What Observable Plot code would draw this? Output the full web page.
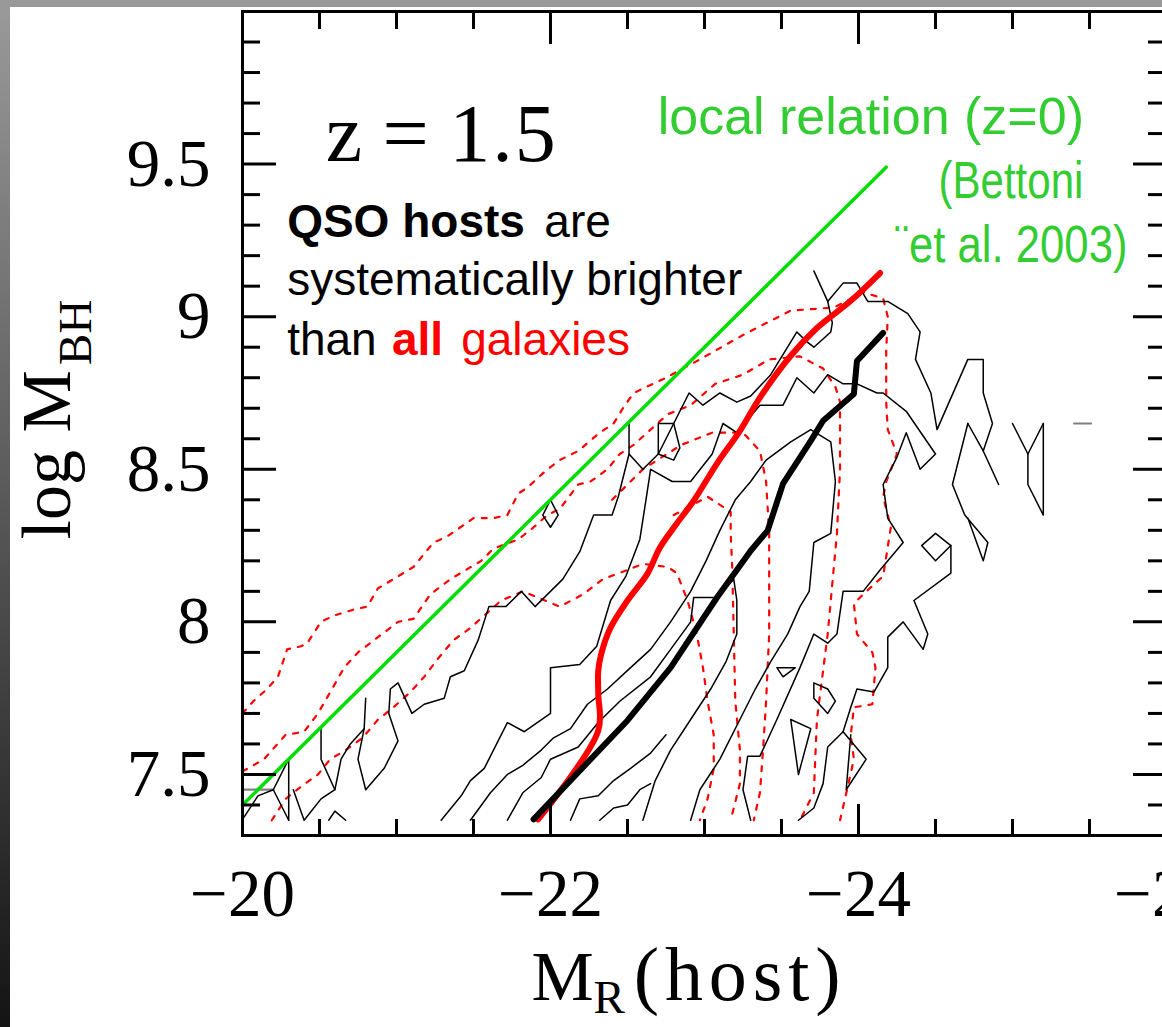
<!DOCTYPE html>
<html><head><meta charset="utf-8">
<script src="https://cdn.jsdelivr.net/npm/d3@7"></script>
<script src="https://cdn.jsdelivr.net/npm/@observablehq/plot@0.6"></script>
<style>
html,body{margin:0;padding:0;background:#fff;}
#wrap{position:relative;width:1162px;height:1027px;overflow:hidden;background:#fff;}
#chart{position:absolute;left:0;top:0;width:1170px;}
#chart svg{max-width:none !important;}
#topbar{position:absolute;left:0;top:0;width:1162px;height:7px;background:#9a9a9a;}
#leftbar{position:absolute;left:0;top:0;width:10px;height:1027px;background:linear-gradient(#9a9a9a,#141414);}
</style></head>
<body><div id="wrap"><div id="chart"></div><div id="topbar"></div><div id="leftbar"></div></div>
<script>
// ---- axes ----
const xMajorTicks = [-20, -22, -24, -26];
const xTickLabels = ["−20", "−22", "−24", "−26"];
const xMinorTicks = [-20.5, -21, -21.5, -22.5, -23, -23.5, -24.5, -25, -25.5];
const yMajorTicks = [7.5, 8, 8.5, 9, 9.5];
const yTickLabels = ["7.5", "8", "8.5", "9", "9.5"];
const yMinorTicks = [7.4, 7.6, 7.7, 7.8, 7.9, 8.1, 8.2, 8.3, 8.4, 8.6, 8.7, 8.8, 8.9, 9.1, 9.2, 9.3, 9.4, 9.6, 9.7, 9.8, 9.9];

// ---- local relation (Bettoni et al. 2003) ----
const localMR = [-20.0, -24.18];
const localLogM = [7.40, 9.49];

// ---- median relations ----
const qsoMR   = [-21.89, -22.50, -22.78, -23.08, -23.30, -23.41, -23.51, -23.69, -23.77, -23.97, -23.99, -24.16];
const qsoLogM = [7.353, 7.677, 7.850, 8.079, 8.233, 8.299, 8.453, 8.593, 8.659, 8.747, 8.855, 8.947];
const allMR   = [-21.92, -22.31, -22.31, -22.31, -22.33, -22.39, -22.50, -22.63, -22.71, -22.82, -22.93, -23.08, -23.23, -23.36, -23.56, -23.73, -23.95, -24.14];
const allLogM = [7.353, 7.644, 7.765, 7.840, 7.896, 7.981, 8.070, 8.158, 8.243, 8.322, 8.397, 8.518, 8.626, 8.735, 8.872, 8.963, 9.052, 9.143];

// ---- QSO host contours (black, solid) ----
const qsoContours = [
  [[-20.79,7.65],[-20.75,7.55],[-20.80,7.45],[-20.92,7.52],[-21.01,7.61],[-20.95,7.70],[-20.96,7.78],[-21.01,7.80],[-21.10,7.70],[-21.18,7.73],[-21.31,7.75],[-21.35,7.82],[-21.44,7.84],[-21.53,7.94],[-21.60,8.05],[-21.71,8.05],[-21.81,8.10],[-21.90,8.05],[-22.08,8.14],[-22.19,8.23],[-22.28,8.35],[-22.40,8.35],[-22.44,8.41],[-22.51,8.55],[-22.60,8.50],[-22.70,8.55],[-22.80,8.65],[-22.90,8.75],[-22.99,8.71],[-23.10,8.75],[-23.21,8.72],[-23.30,8.74],[-23.43,8.81],[-23.60,8.95],[-23.66,8.92],[-23.71,8.90],[-23.82,8.95],[-23.83,8.98],[-23.80,9.05],[-23.90,9.11],[-23.99,9.11],[-24.06,9.05],[-24.19,9.05],[-24.32,9.01],[-24.40,8.95],[-24.37,8.86],[-24.47,8.75],[-24.51,8.63],[-24.71,8.86],[-24.81,8.86],[-24.81,8.75],[-24.87,8.65],[-24.81,8.56],[-24.91,8.45]],
  [[-22.51,8.55],[-22.51,8.65]],
  [[-22.70,8.55],[-22.70,8.65],[-22.80,8.65],[-22.84,8.57],[-22.80,8.53],[-22.70,8.55]],
  [[-23.80,9.05],[-23.71,9.15]],
  [[-20.01,7.36],[-20.10,7.43],[-20.20,7.45],[-20.30,7.55],[-20.30,7.35]],
  [[-20.20,7.45],[-20.30,7.35]],
  [[-20.33,7.45],[-20.40,7.35],[-20.51,7.42],[-20.60,7.45],[-20.51,7.55],[-20.51,7.65]],
  [[-20.60,7.45],[-20.64,7.55],[-20.70,7.60],[-20.79,7.65],[-20.80,7.75]],
  [[-20.56,7.35],[-20.60,7.38],[-20.67,7.35]],
  [[-22.00,8.40],[-22.05,8.35],[-22.00,8.31],[-21.95,8.35],[-22.00,8.40]],
  [[-21.29,7.35],[-21.42,7.43],[-21.48,7.48],[-21.57,7.52],[-21.72,7.67],[-21.83,7.64],[-22.00,7.70],[-22.00,7.85],[-22.19,7.86],[-22.30,7.92],[-22.39,8.07],[-22.49,8.15],[-22.58,8.27],[-22.62,8.40],[-22.65,8.50],[-22.79,8.46],[-22.91,8.46],[-23.05,8.55],[-23.12,8.65],[-23.21,8.62],[-23.36,8.71],[-23.51,8.71],[-23.60,8.80],[-23.71,8.75],[-23.80,8.81],[-23.90,8.78],[-23.99,8.78],[-24.12,8.75],[-24.16,8.75],[-24.31,8.69],[-24.50,8.55],[-24.40,8.50],[-24.31,8.62],[-24.25,8.54],[-24.16,8.45],[-24.19,8.34],[-24.29,8.26],[-24.14,8.17],[-24.03,8.10],[-23.90,8.10],[-23.86,7.96],[-23.80,7.93],[-23.71,7.96],[-23.62,7.85],[-23.47,7.68],[-23.36,7.56],[-23.28,7.56],[-23.25,7.45],[-23.30,7.35]],
  [[-24.71,8.65],[-24.81,8.56]],
  [[-24.71,8.65],[-24.61,8.45],[-24.69,8.35],[-24.84,8.26],[-24.81,8.20],[-24.71,8.34]],
  [[-25.00,8.65],[-25.10,8.55],[-25.20,8.65]],
  [[-25.10,8.55],[-25.10,8.45],[-25.20,8.35],[-25.20,8.65]],
  [[-24.41,8.25],[-24.50,8.29],[-24.60,8.25],[-24.50,8.20],[-24.41,8.25]],
  [[-24.60,8.25],[-24.60,8.16],[-24.36,8.07],[-24.45,7.96],[-24.42,7.91],[-24.29,8.00],[-24.19,7.95],[-24.19,7.85],[-24.10,7.77],[-23.99,7.78],[-23.95,7.72],[-23.90,7.64],[-23.80,7.59],[-23.77,7.47],[-23.71,7.39],[-23.61,7.35]],
  [[-23.71,7.80],[-23.80,7.78],[-23.85,7.74],[-23.80,7.70],[-23.71,7.75],[-23.71,7.80]],
  [[-23.56,7.68],[-23.69,7.65],[-23.61,7.50],[-23.56,7.68]],
  [[-23.47,7.85],[-23.59,7.85],[-23.51,7.82],[-23.47,7.85]],
  [[-23.90,7.64],[-24.05,7.55],[-23.92,7.45],[-23.95,7.63]],
  [[-21.48,7.35],[-21.61,7.44],[-21.72,7.50],[-21.82,7.53],[-21.94,7.58],[-22.02,7.62],[-22.13,7.65],[-22.24,7.73],[-22.37,7.78],[-22.52,7.85],[-22.65,7.91],[-22.78,8.00],[-22.91,8.10],[-23.01,8.20],[-23.10,8.30],[-23.20,8.40],[-23.30,8.46],[-23.40,8.53],[-23.56,8.59],[-23.69,8.63],[-23.82,8.59],[-23.85,8.46],[-23.82,8.29],[-23.71,8.26],[-23.68,8.10],[-23.62,8.05],[-23.54,7.96],[-23.43,7.87],[-23.33,7.78],[-23.23,7.68],[-23.10,7.55],[-22.97,7.45],[-22.91,7.35]],
  [[-21.72,7.35],[-21.82,7.44],[-21.94,7.49],[-22.00,7.55],[-22.18,7.59],[-22.31,7.67],[-22.45,7.74],[-22.65,7.82],[-22.78,7.91],[-22.91,8.00],[-22.93,8.08],[-23.08,8.08],[-23.19,8.14],[-23.21,8.07],[-23.21,7.96],[-23.14,7.87],[-23.04,7.78],[-22.91,7.68],[-22.78,7.58],[-22.68,7.48],[-22.60,7.35]],
  [[-22.13,7.35],[-22.19,7.42],[-22.31,7.43],[-22.41,7.48],[-22.52,7.52],[-22.65,7.57],[-22.75,7.63]],
  [[-22.32,7.35],[-22.41,7.39],[-22.50,7.40],[-22.58,7.45],[-22.65,7.47]]
];
const greyContours = [
  [[-20.00,7.45],[-20.20,7.45]],
  [[-25.40,8.65],[-25.51,8.65]]
];

// ---- all-galaxy contours (red, dotted) ----
const allContours = [
  [[-20.00,7.70],[-20.07,7.74],[-20.16,7.78],[-20.23,7.82],[-20.29,7.91],[-20.38,7.92],[-20.42,7.93],[-20.51,8.00],[-20.59,8.02],[-20.72,8.04],[-20.81,8.05],[-20.88,8.11],[-20.98,8.14],[-21.11,8.18],[-21.24,8.26],[-21.33,8.28],[-21.50,8.34],[-21.63,8.34],[-21.72,8.35],[-21.79,8.42],[-21.85,8.44],[-21.98,8.50],[-22.06,8.53],[-22.18,8.56],[-22.32,8.62],[-22.41,8.65],[-22.47,8.70],[-22.54,8.75],[-22.75,8.80],[-22.97,8.86],[-23.25,8.94],[-23.56,9.02],[-23.84,9.03],[-24.03,9.08],[-24.16,9.06],[-24.19,9.00],[-24.18,8.89],[-24.18,8.72],[-24.19,8.63],[-24.25,8.55],[-24.18,8.46],[-24.16,8.41],[-24.21,8.31],[-24.16,8.15],[-24.03,8.09],[-23.97,8.06],[-23.99,7.96],[-24.09,7.90],[-24.11,7.85],[-24.09,7.73],[-23.97,7.72],[-23.95,7.63],[-23.97,7.55],[-23.93,7.46],[-23.88,7.35]],
  [[-20.00,7.51],[-20.14,7.55],[-20.28,7.63],[-20.40,7.64],[-20.49,7.70],[-20.57,7.77],[-20.66,7.85],[-20.75,7.90],[-20.88,7.95],[-21.01,8.00],[-21.11,8.01],[-21.22,8.09],[-21.35,8.14],[-21.55,8.20],[-21.63,8.24],[-21.79,8.27],[-21.89,8.31],[-21.98,8.35],[-22.06,8.37],[-22.18,8.45],[-22.26,8.46],[-22.37,8.50],[-22.45,8.55],[-22.54,8.58],[-22.65,8.63],[-22.76,8.68],[-22.91,8.71],[-23.07,8.78],[-23.25,8.81],[-23.42,8.86],[-23.62,8.87],[-23.77,8.83],[-23.85,8.77],[-23.88,8.72],[-23.88,8.50],[-23.86,8.29],[-23.84,8.18],[-23.80,7.96],[-23.73,7.68],[-23.71,7.44],[-23.62,7.35]],
  [[-20.19,7.35],[-20.28,7.42],[-20.38,7.46],[-20.49,7.50],[-20.57,7.55],[-20.67,7.58],[-20.78,7.62],[-20.88,7.68],[-20.98,7.72],[-21.09,7.77],[-21.18,7.82],[-21.27,7.88],[-21.37,7.94],[-21.48,7.98],[-21.59,8.03],[-21.68,8.07],[-21.82,8.10],[-22.06,8.05],[-22.21,8.09],[-22.34,8.14],[-22.50,8.17],[-22.60,8.19],[-22.76,8.18],[-22.82,8.16],[-22.89,8.07],[-22.95,7.96],[-22.99,7.85],[-23.02,7.74],[-23.06,7.63],[-23.06,7.52],[-23.02,7.42],[-22.97,7.35]],
  [[-22.40,8.40],[-22.60,8.50],[-22.85,8.58],[-23.05,8.62],[-23.25,8.62],[-23.36,8.56],[-23.40,8.46],[-23.42,8.29],[-23.42,7.96],[-23.40,7.74],[-23.38,7.58],[-23.36,7.44],[-23.32,7.35]],
  [[-22.80,8.35],[-23.02,8.41],[-23.17,8.36],[-23.17,8.29],[-23.18,8.18],[-23.19,7.96],[-23.20,7.74],[-23.23,7.58],[-23.23,7.47],[-23.17,7.35]]
];

function rows(list) {
  return list.flatMap((pts, i) => pts.map(([x, y]) => ({id: i, x, y})));
}
const serif = "'Liberation Serif', 'DejaVu Serif', serif";
const sans = "'Liberation Sans', Arial, sans-serif";
const green = "#33cc33";

const plot = Plot.plot({
  width: 1170, height: 1027,
  marginLeft: 242, marginRight: 4, marginTop: 11, marginBottom: 192,
  x: {domain: [-20, -26], axis: null},
  y: {domain: [7.3, 10.0], axis: null},
  style: {background: "transparent", overflow: "visible"},
  marks: [
    Plot.line(rows(allContours), {x: "x", y: "y", z: "id", stroke: "#ff0000", strokeWidth: 2.2, strokeDasharray: "5,8", strokeLinejoin: "round", clip: true}),
    Plot.line(rows(greyContours), {x: "x", y: "y", z: "id", stroke: "#808080", strokeWidth: 2.2, clip: true}),
    Plot.line(rows(qsoContours), {x: "x", y: "y", z: "id", stroke: "black", strokeWidth: 1.5, strokeLinejoin: "round", clip: true}),
    Plot.line(localMR.map((m, i) => ({m, v: localLogM[i]})), {x: "m", y: "v", stroke: "#00dd00", strokeWidth: 3.5}),
    Plot.line(allMR.map((m, i) => ({m, v: allLogM[i]})), {x: "m", y: "v", stroke: "#ff0000", strokeWidth: 6, strokeLinejoin: "round", curve: "catmull-rom"}),
    Plot.line(qsoMR.map((m, i) => ({m, v: qsoLogM[i]})), {x: "m", y: "v", stroke: "black", strokeWidth: 6, strokeLinejoin: "round"}),
    Plot.frame({stroke: "black", strokeWidth: 3}),
    Plot.tickX(xMinorTicks, {x: d => d, insetTop: 824 - 16, stroke: "black", strokeWidth: 3}),
    Plot.tickX(xMinorTicks, {x: d => d, insetBottom: 824 - 18, stroke: "black", strokeWidth: 3}),
    Plot.tickX(xMajorTicks, {x: d => d, insetTop: 824 - 31, stroke: "black", strokeWidth: 3}),
    Plot.tickX(xMajorTicks, {x: d => d, insetBottom: 824 - 33, stroke: "black", strokeWidth: 3}),
    Plot.tickY(yMinorTicks, {y: d => d, insetRight: 924 - 18, stroke: "black", strokeWidth: 3}),
    Plot.tickY(yMajorTicks, {y: d => d, insetRight: 924 - 34, stroke: "black", strokeWidth: 3}),
    Plot.tickY(yMinorTicks, {y: d => d, insetLeft: 924 - 18, stroke: "black", strokeWidth: 3}),
    Plot.tickY(yMajorTicks, {y: d => d, insetLeft: 924 - 33, stroke: "black", strokeWidth: 3}),
    Plot.text(xMajorTicks, {x: d => d, frameAnchor: "bottom", dy: 80, lineAnchor: "bottom", text: (d, i) => xTickLabels[i], fontFamily: serif, fontSize: 67, fill: "black"}),
    Plot.text(yMajorTicks, {y: d => d, frameAnchor: "left", dx: -32, textAnchor: "end", lineAnchor: "middle", text: (d, i) => yTickLabels[i], fontFamily: serif, fontSize: 67, fill: "black"}),
    Plot.text(["log M"], {x: -18.883, y: 8.27, rotate: -90, textAnchor: "start", lineAnchor: "bottom", fontFamily: serif, fontSize: 70, fill: "black"}),
    Plot.text(["BH"], {x: -19.013, y: 8.842, rotate: -90, textAnchor: "start", lineAnchor: "bottom", fontFamily: serif, fontSize: 47, fill: "black"}),
    Plot.text(["M"], {x: -21.877, y: 6.76, textAnchor: "start", lineAnchor: "bottom", fontFamily: serif, fontSize: 70, fill: "black"}),
    Plot.text(["R"], {x: -22.28, y: 6.718, textAnchor: "start", lineAnchor: "bottom", fontFamily: serif, fontSize: 47, fill: "black"}),
    Plot.text(["(host)"], {x: -22.54, y: 6.76, textAnchor: "start", lineAnchor: "bottom", fontFamily: serif, fontSize: 76, fill: "black"}),
    Plot.text(["z\u2009=\u20091.5"], {x: -20.54, y: 9.51, textAnchor: "start", lineAnchor: "bottom", fontFamily: serif, fontSize: 82, fill: "black"}),
    Plot.text(["QSO hosts"], {x: -20.29, y: 9.26, textAnchor: "start", lineAnchor: "bottom", fontFamily: sans, fontWeight: "bold", fontSize: 46, fill: "black"}),
    Plot.text(["are"], {x: -21.96, y: 9.26, textAnchor: "start", lineAnchor: "bottom", fontFamily: sans, fontSize: 46, fill: "black"}),
    Plot.text(["systematically brighter"], {x: -20.29, y: 9.07, textAnchor: "start", lineAnchor: "bottom", fontFamily: sans, fontSize: 46, fill: "black"}),
    Plot.text(["than"], {x: -20.29, y: 8.875, textAnchor: "start", lineAnchor: "bottom", fontFamily: sans, fontSize: 46, fill: "black"}),
    Plot.text(["all"], {x: -20.97, y: 8.875, textAnchor: "start", lineAnchor: "bottom", fontFamily: sans, fontWeight: "bold", fontSize: 46, fill: "#ff0000"}),
    Plot.text(["galaxies"], {x: -21.42, y: 8.875, textAnchor: "start", lineAnchor: "bottom", fontFamily: sans, fontSize: 46, fill: "#ff0000"}),
    Plot.text(["local relation (z=0)"], {x: -24.08, y: 9.598, textAnchor: "middle", lineAnchor: "bottom", fontFamily: sans, fontSize: 52, fill: green}),
    Plot.text(["(Bettoni"], {x: -24.99, y: 9.39, textAnchor: "middle", lineAnchor: "bottom", fontFamily: sans, fontSize: 52, fill: green}),
    Plot.text(["¨et al. 2003)"], {x: -24.99, y: 9.18, textAnchor: "middle", lineAnchor: "bottom", fontFamily: sans, fontSize: 52, fill: green})
  ]
});
const narrow = {"(Bettoni": 145, "¨et al. 2003)": 233};
const spaced = {"(host)": 207, "z\u2009=\u20091.5": 230};
d3.select(plot).selectAll("text").each(function () {
  const t = this.textContent;
  if (narrow[t]) { this.setAttribute("textLength", narrow[t]); this.setAttribute("lengthAdjust", "spacingAndGlyphs"); }
  if (spaced[t]) { this.setAttribute("textLength", spaced[t]); this.setAttribute("lengthAdjust", "spacing"); }
});
document.getElementById("chart").appendChild(plot);
</script>
</body></html>
